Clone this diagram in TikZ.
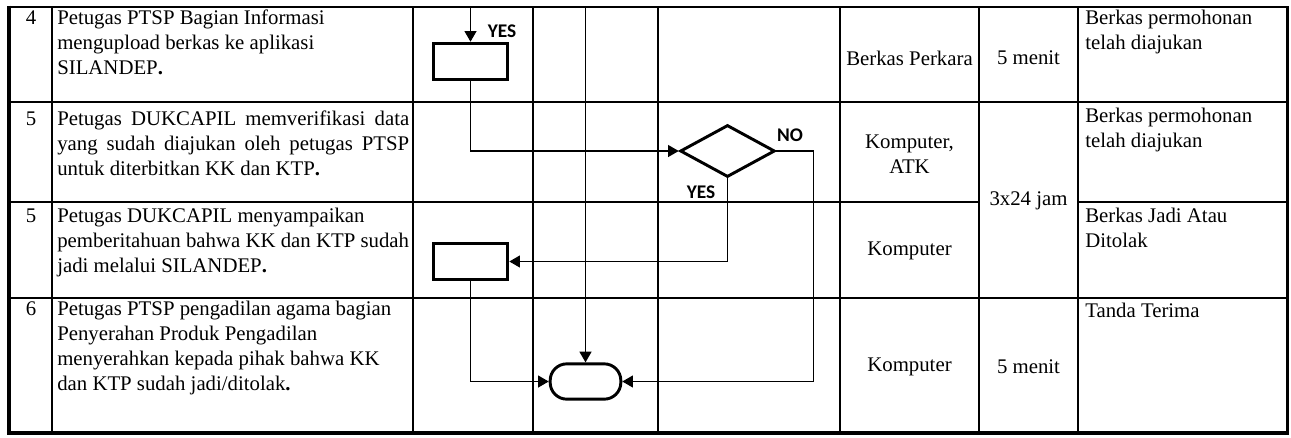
\documentclass[tikz,border=0pt]{standalone}
\usepackage{fontspec}
\setmainfont{Liberation Serif}
\newfontfamily\lblfont{Carlito}
\usetikzlibrary{shapes.geometric,arrows.meta}
\begin{document}
\begin{tikzpicture}[x=0.75pt,y=-0.75pt,
  every node/.style={font=\fontsize{15.6pt}{18.75pt}\selectfont},
  gridline/.style={line width=1.2pt},
  outerline/.style={line width=2.4pt},
  proc/.style={draw,rectangle,line width=2.2pt,minimum width=56pt,minimum height=27.5pt,inner sep=0pt},
  decision/.style={draw,diamond,line width=2.2pt,minimum width=71pt,minimum height=39pt,inner sep=0pt},
  term/.style={draw,rectangle,rounded corners=12.5pt,line width=2.2pt,minimum width=53pt,minimum height=26.5pt,inner sep=0pt},
  conn/.style={line width=0.9pt,-{Triangle[length=8pt,width=9pt]}},
  lbl/.style={font=\lblfont\bfseries\fontsize{14.5pt}{16pt}\selectfont,inner sep=0pt},
  desc/.style={anchor=north west,inner sep=0pt,align=left},
  num/.style={anchor=base,inner sep=0pt},
  mid/.style={anchor=center,inner sep=0pt,align=center}
]
\useasboundingbox (0,0) rectangle (1291,437);
% grid
\foreach \x in {52,413,533,658,840,979,1078} \draw[gridline] (\x,7) -- (\x,433);
\draw[gridline] (9,102) -- (1287,102);
\draw[gridline] (9,202) -- (979,202);
\draw[gridline] (1078,202) -- (1287,202);
\draw[gridline] (9,298) -- (1287,298);
\draw[gridline] (9,7) -- (1287.5,7);
\draw[line width=3pt] (9,5.5) -- (9,434.5);
\draw[outerline] (7.5,433) -- (1288.5,433);
\draw[outerline] (1287.5,6) -- (1287.5,434.5);
% numbers
\node[num] (n1) at (31,24) {4};
\node[num] (n2) at (31,125) {5};
\node[num] (n3) at (31,222) {5};
\node[num] (n4) at (31,315) {6};
% descriptions
\node[desc] (d1) at (57,10) {Petugas PTSP Bagian Informasi\\mengupload berkas ke aplikasi\\SILANDEP\textbf{.}};
\node[desc] (d2) at (57,111) {\makebox[264pt][s]{Petugas DUKCAPIL memverifikasi data}\\\makebox[264pt][s]{yang sudah diajukan oleh petugas PTSP}\\untuk diterbitkan KK dan KTP\textbf{.}};
\node[desc] (d3) at (57,208) {Petugas DUKCAPIL menyampaikan\\pemberitahuan bahwa KK dan KTP sudah\\jadi melalui SILANDEP\textbf{.}};
\node[desc] (d4) at (57,301) {Petugas PTSP pengadilan agama bagian\\Penyerahan Produk Pengadilan\\menyerahkan kepada pihak bahwa KK\\dan KTP sudah jadi/ditolak\textbf{.}};
% tools / time
\node[mid] (k1) at (909.5,58) {Berkas Perkara};
\node[mid] (w1) at (1028.5,58) {5 menit};
\node[mid] (k2) at (909.5,154) {Komputer,\\ATK};
\node[mid] (w2) at (1028.5,201) {3x24 jam};
\node[mid] (k3) at (909.5,251) {Komputer};
\node[mid] (k4) at (909.5,367) {Komputer};
\node[mid] (w4) at (1028.5,367) {5 menit};
% outputs
\node[desc] (o1) at (1085,10) {Berkas permohonan\\telah diajukan};
\node[desc] (o2) at (1085,108) {Berkas permohonan\\telah diajukan};
\node[desc] (o3) at (1085,208) {Berkas Jadi Atau\\Ditolak};
\node[desc] (o4) at (1085,303) {Tanda Terima};
% flow shapes
\node[proc] (r1) at (470.5,61.5) {};
\node[decision] (dc) at (727.5,151) {};
\node[proc] (r2) at (470.5,261.5) {};
\node[term] (tm) at (585.5,381.5) {};
\coordinate (t1) at (470.5,7);
\coordinate (t2) at (585.5,7);
\draw[conn] (t1) -- (r1.north);
\draw[conn] (r1.south) |- (dc.west);
\draw[conn] (dc.south) |- (r2.east);
\draw[conn] (dc.east) -- ++(37,0) |- (tm.east);
\draw[conn] (r2.south) |- (tm.west);
\draw[conn] (t2) -- (tm.north);
% labels
\node[lbl] (y1) at (502,31) {YES};
\node[lbl] (no) at (790,135) {NO};
\node[lbl] (y2) at (701,192) {YES};
\end{tikzpicture}
\end{document}
